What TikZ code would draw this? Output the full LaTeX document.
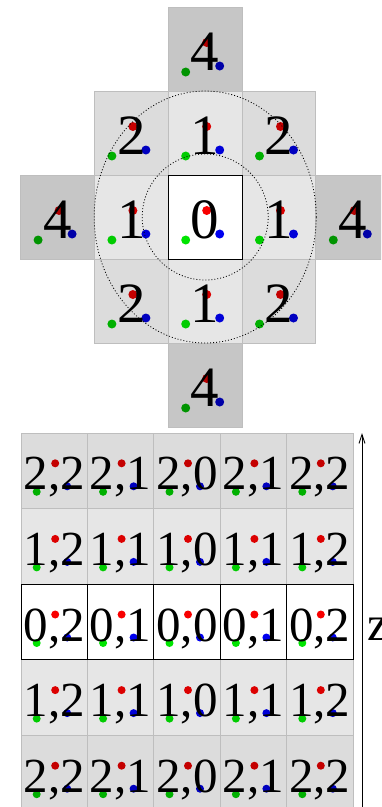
\documentclass[tikz,border=0pt]{standalone}
\usepackage{fontspec}
\setmainfont{Liberation Serif}
\usetikzlibrary{arrows.meta}
\definecolor{fillA}{HTML}{C6C6C6}
\definecolor{fillB}{HTML}{DCDCDC}
\definecolor{fillC}{HTML}{E6E6E6}
\definecolor{fillW}{HTML}{FFFFFF}
\definecolor{redA}{HTML}{B40000}
\definecolor{greenA}{HTML}{009400}
\definecolor{blueA}{HTML}{0000A8}
\definecolor{redB}{HTML}{C40000}
\definecolor{greenB}{HTML}{00B000}
\definecolor{blueB}{HTML}{0000C0}
\definecolor{redC}{HTML}{DC0000}
\definecolor{greenC}{HTML}{00CC00}
\definecolor{blueC}{HTML}{0000D8}
\definecolor{redW}{HTML}{F80000}
\definecolor{greenW}{HTML}{00E400}
\definecolor{blueW}{HTML}{0000F0}
\definecolor{gridgray}{HTML}{BEBEBE}
\begin{document}
\begin{tikzpicture}[x=1pt,y=-1pt,
  cellline/.style={draw=gridgray,line width=0.9pt},
  centerline/.style={draw=black,line width=0.9pt},
  bigdigit/.style={font=\fontsize{57}{57}\selectfont,inner sep=0pt,anchor=base},
  griddigit/.style={font=\fontsize{49}{49}\selectfont,inner sep=0pt,anchor=base},
  ring/.style={draw=black,line width=0.8pt,dash pattern=on 1pt off 2pt}]
\useasboundingbox (0,0) rectangle (381,807);
\clip (0,0) rectangle (381,807);
% ---------- top cross ----------
\foreach \c/\r/\t/\s in {2/0/4/A,1/1/2/B,2/1/1/C,3/1/2/B,0/2/4/A,1/2/1/C,2/2/0/W,3/2/1/C,4/2/4/A,1/3/2/B,2/3/1/C,3/3/2/B,2/4/4/A}{
  \pgfmathsetmacro\xl{20.7+73.8*\c}
  \pgfmathsetmacro\yt{7+84*\r}
  \filldraw[fill=fill\s,cellline] (\xl,\yt) rectangle ++(73.8,84);
}
\draw[centerline] (168.3,175) rectangle ++(73.8,84);
\foreach \c/\r/\t/\s in {2/0/4/A,1/1/2/B,2/1/1/C,3/1/2/B,0/2/4/A,1/2/1/C,2/2/0/W,3/2/1/C,4/2/4/A,1/3/2/B,2/3/1/C,3/3/2/B,2/4/4/A}{
  \pgfmathsetmacro\cx{20.7+73.8*\c+36.9}
  \pgfmathsetmacro\cy{7+84*\r+42}
  \fill[red\s] (\cx+1.5,\cy-6.5) circle (4.5pt);
  \fill[green\s] (\cx-19.5,\cy+23) circle (4.5pt);
  \fill[blue\s] (\cx+14.5,\cy+17) circle (4.5pt);
  \node[bigdigit] (top\c\r) at (\cx,\cy+21.5) {\t};
}
\coordinate (ctr) at (205.2,217);
\draw[ring] (ctr) circle [radius=63pt];
\draw[ring] (ctr) ellipse [x radius=111pt, y radius=126pt];
% ---------- bottom grid ----------
\foreach \c/\cl in {0/2,1/1,2/0,3/1,4/2}{
  \foreach \r/\rl/\s in {0/2/B,1/1/C,2/0/W,3/1/C,4/2/B}{
    \pgfmathsetmacro\xl{21+66.4*\c}
    \pgfmathsetmacro\yt{433+75.6*\r}
    \filldraw[fill=fill\s,cellline] (\xl,\yt) rectangle ++(66.4,75.6);
  }
}
\foreach \c in {0,...,4}{
  \pgfmathsetmacro\xl{21+66.4*\c}
  \draw[centerline] (\xl,584.2) rectangle ++(66.4,75.6);
}
\foreach \c/\cl in {0/2,1/1,2/0,3/1,4/2}{
  \foreach \r/\rl/\s in {0/2/B,1/1/C,2/0/W,3/1/C,4/2/B}{
    \pgfmathsetmacro\cx{21+66.4*\c+33.2}
    \pgfmathsetmacro\cy{433+75.6*\r+37.8}
    \fill[red\s] (\cx+1,\cy-7.5) circle (4pt);
    \fill[green\s] (\cx-17.5,\cy+21) circle (4pt);
    \fill[blue\s] (\cx+13,\cy+15.5) circle (4pt);
    \node[griddigit] (g\c\r) at (\cx,\cy+19) {\rl,\cl};
  }
}
\coordinate (abot) at (362,812);
\coordinate (atop) at (362,433);
\draw[line width=0.9pt,-{Straight Barb[length=9pt,width=6pt]}] (abot) -- (atop);
\node[griddigit,anchor=base west] (zlab) at (367,640) {z};
\end{tikzpicture}
\end{document}
